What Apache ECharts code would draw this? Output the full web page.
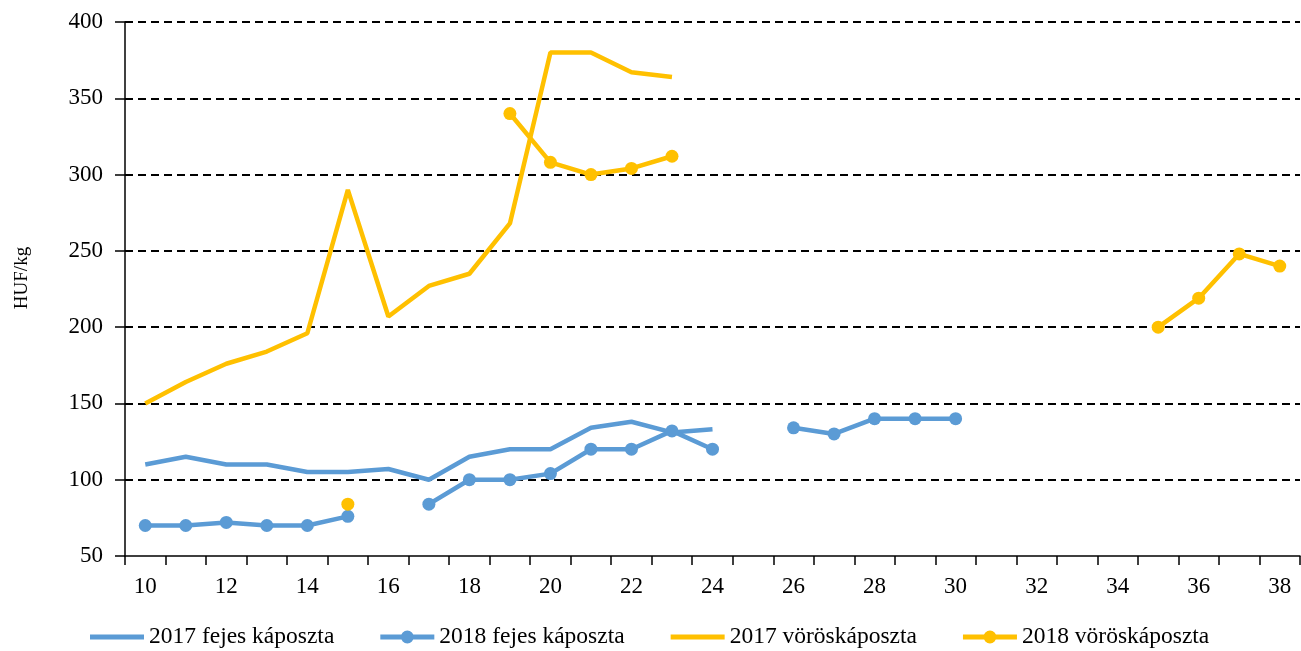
<!DOCTYPE html>
<html>
<head>
<meta charset="utf-8">
<script src="https://cdn.jsdelivr.net/npm/echarts@6/dist/echarts.min.js"></script>
<style>
	html, body { margin: 0; padding: 0; background: #fff; }
	#chart { width: 1301px; height: 651px; }
</style>
</head>
<body>
<div id="chart"></div>
<script>
// weeks 10..38
const weeks = ['10','11','12','13','14','15','16','17','18','19','20','21','22','23','24','25','26','27','28','29','30','31','32','33','34','35','36','37','38']
const fejes2017 = [110, 115, 110, 110, 105, 105, 107, 100, 115, 120, 120, 134, 138, 131, 133,
	null, null, null, null, null, null, null, null, null, null, null, null, null, null]
const fejes2018 = [70, 70, 72, 70, 70, 76, null, 84, 100, 100, 104, 120, 120, 132, 120,
	null, 134, 130, 140, 140, 140, null, null, null, null, null, null, null, null]
const voros2017 = [150, 164, 176, 184, 196, 290, 207, 227, 235, 268, 380, 380, 367, 364,
	null, null, null, null, null, null, null, null, null, null, null, null, null, null, null]
const voros2018 = [null, null, null, null, null, 84, null, null, null, 340, 308, 300, 304, 312,
	null, null, null, null, null, null, null, null, null, null, null, 200, 219, 248, 240]
const yTicks = { min: 50, max: 400, step: 50 }

const blue = '#5B9BD5'
const yellow = '#FFC000'
const font = 'Liberation Serif'

// legend icons: plain line, and line with a dot in the middle
const lineIcon = 'path://M0,0 L54,0 L54,5 L0,5 Z'
const dotIcon = 'path://M0,4.5 L54,4.5 L54,9.5 L0,9.5 Z M20.5,7 A6.5,6.5 0 1,1 33.5,7 A6.5,6.5 0 1,1 20.5,7 Z'

function lineSeries(name, data, color, withMarker) {
	return {
		name: name,
		type: 'line',
		data: data,
		connectNulls: false,
		symbol: withMarker ? 'circle' : 'none',
		symbolSize: 13,
		lineStyle: { color: color, width: 4.5 },
		itemStyle: { color: color },
		emphasis: { disabled: true }
	}
}

let myChart = echarts.init(document.getElementById('chart'))
let option = {
	animation: false,
	grid: { left: 125, right: 1, top: 22, bottom: 95, containLabel: false },
	legend: {
		bottom: -3,
		left: 85,
		itemWidth: 54,
		itemHeight: 14,
		itemGap: 46,
		symbolKeepAspect: true,
		textStyle: { fontFamily: font, fontSize: 23.5, color: '#000' },
		data: [
			{ name: '2017 fejes káposzta', icon: lineIcon },
			{ name: '2018 fejes káposzta', icon: dotIcon },
			{ name: '2017 vöröskáposzta', icon: lineIcon },
			{ name: '2018 vöröskáposzta', icon: dotIcon }
		]
	},
	xAxis: {
		type: 'category',
		data: weeks,
		boundaryGap: true,
		axisLine: { lineStyle: { color: '#000', width: 1.5 } },
		axisTick: { show: true, interval: 0, length: 9, lineStyle: { color: '#000', width: 1.5 } },
		axisLabel: { interval: 1, margin: 19, fontFamily: font, fontSize: 23, color: '#000' },
		splitLine: { show: false }
	},
	yAxis: {
		type: 'value',
		min: yTicks.min,
		max: yTicks.max,
		interval: yTicks.step,
		name: 'HUF/kg',
		nameLocation: 'middle',
		nameGap: 93,
		nameTextStyle: { fontFamily: font, fontSize: 19, color: '#000', padding: [0, 0, 0, 22] },
		axisLine: { show: true, lineStyle: { color: '#000', width: 1.5 } },
		axisTick: { show: true, length: 10, lineStyle: { color: '#000', width: 1.5 } },
		axisLabel: { margin: 22, fontFamily: font, fontSize: 23, color: '#000' },
		splitLine: { show: true, showMinLine: false, lineStyle: { color: '#000', width: 2, type: [8, 5] } }
	},
	series: [
		lineSeries('2017 fejes káposzta', fejes2017, blue, false),
		lineSeries('2018 fejes káposzta', fejes2018, blue, true),
		lineSeries('2017 vöröskáposzta', voros2017, yellow, false),
		lineSeries('2018 vöröskáposzta', voros2018, yellow, true)
	]
}
myChart.setOption(option)
</script>
</body>
</html>
